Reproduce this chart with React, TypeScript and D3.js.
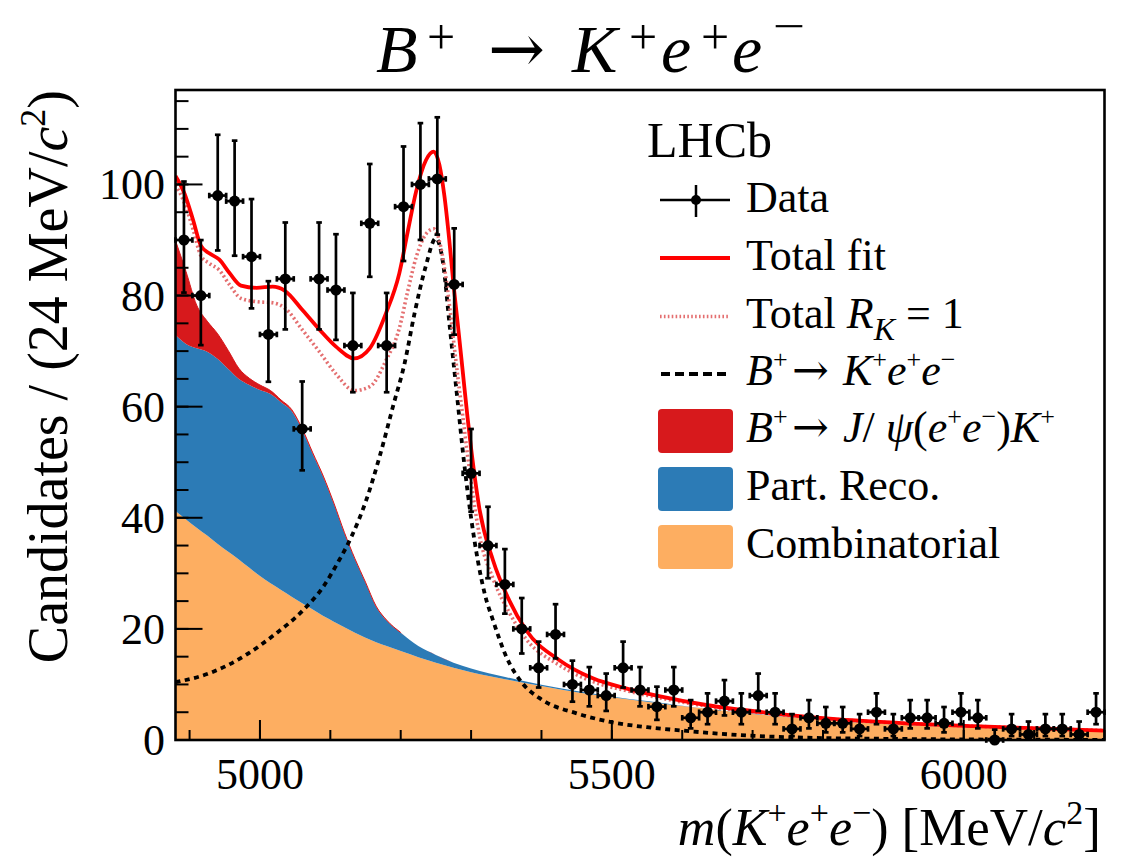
import React from "react";
import * as d3 from "d3";

// Canvas and frame
const W = 1124;
const H = 857;
const FRAME = { left: 175.5, right: 1104.5, top: 90, bottom: 740 };
const M_MIN = 4880;
const M_MAX = 6200;
const Y_MAX = 117;
const BIN_WIDTH = 24;

// Candidates per 24 MeV bin, starting at 4880 MeV
const counts = [
  90, 80, 98, 97, 87, 73, 83, 56, 83, 81, 71, 93, 71, 96, 100, 101, 82, 48, 35, 28,
  20, 13, 19, 10, 9, 8, 13, 9, 6, 9, 4, 5, 7, 5, 8, 5, 2, 4, 3, 3,
  2, 5, 2, 4, 4, 3, 5, 4, 0, 2, 1, 2, 2, 1, 5,
];

// Stacked background components on a common mass grid
const stackMass = [
  4880, 4895, 4910, 4925, 4940, 4955, 4970, 4985, 5000, 5015, 5030, 5045, 5060, 5075,
  5090, 5105, 5120, 5135, 5150, 5165, 5180, 5200, 5225, 5250, 5275, 5300, 5350, 5400,
  5450, 5500, 5550, 5600, 5700, 5800, 5900, 6000, 6100, 6200,
];
const combinatorial = [
  41.2, 39.7, 38.2, 36.8, 35.3, 33.9, 32.5, 31.0, 29.5, 28.2, 27.0, 25.8, 24.6, 23.5,
  22.3, 21.3, 20.3, 19.3, 18.4, 17.6, 16.9, 16.0, 14.9, 13.9, 13.0, 12.2, 10.9, 9.7,
  8.6, 7.7, 6.9, 6.1, 4.7, 3.6, 2.8, 2.3, 1.85, 1.5,
];
const partReco = [
  31.7, 31.6, 32.3, 33.1, 33.3, 32.9, 32.5, 32.9, 33.5, 34.1, 33.8, 33.4, 31.2, 28.0,
  25.0, 21.2, 16.9, 13.2, 9.9, 6.4, 4.6, 3.3, 2.0, 1.4, 0.9, 0.65, 0.4, 0.25,
  0.2, 0.15, 0.1, 0.08, 0.05, 0.03, 0.02, 0.01, 0.01, 0,
];
const jpsiLeak = [
  17.0, 13.0, 7.8, 5.5, 4.5, 3.3, 1.9, 1.2, 0.9, 0.6, 0.4, 0.3, 0.25, 0.2,
  0.2, 0.15, 0.15, 0.12, 0.1, 0.1, 0.08, 0.05, 0.03, 0.02, 0, 0, 0, 0,
  0, 0, 0, 0, 0, 0, 0, 0, 0, 0,
];

// Signal B+ -> K+ e+ e- component
const signalMass = [
  4880, 4930, 4980, 5020, 5060, 5090, 5110, 5130, 5150, 5170, 5190, 5205, 5220, 5235,
  5250, 5260, 5270, 5280, 5290, 5300, 5310, 5320, 5331, 5350, 5373, 5400, 5450, 5500,
  5550, 5600, 5680, 5800, 5900, 6000, 6200,
];
const signalYield = [
  10.4, 12.1, 15.3, 18.9, 23.2, 27.6, 31.8, 36.6, 42.8, 51.0, 60.5, 67.5, 77.0, 85.0,
  90.3, 86.0, 74.0, 62.0, 50.0, 40.0, 32.0, 26.0, 21.6, 15.0, 10.2, 7.3, 4.8, 3.2,
  2.3, 1.7, 0.9, 0.35, 0.2, 0.1, 0.03,
];

// Total fit and total with R_K = 1
const fitMass = [
  4880, 4893, 4905, 4916, 4928, 4942, 4957, 4973, 4995, 5018, 5035, 5061, 5085, 5108,
  5134, 5156, 5179, 5198, 5210, 5222, 5236, 5247, 5255, 5262, 5269, 5275, 5281, 5288,
  5295, 5300, 5312, 5331, 5354, 5378, 5425, 5473, 5520, 5567, 5634, 5728, 5823, 5918,
  6013, 6107, 6200,
];
const totalFit = [
  101.5, 98.3, 93.6, 89.0, 87.6, 86.5, 84.0, 81.8, 81.4, 81.6, 80.9, 77.3, 73.8, 70.8,
  68.7, 70.5, 76.8, 84.0, 91.5, 98.8, 104.4, 105.9, 103.5, 98.0, 90.0, 82.0, 75.0, 66.5,
  58.0, 52.5, 41.5, 32.4, 25.2, 19.8, 14.4, 11.1, 9.3, 7.9, 6.3, 4.8, 3.7, 3.0,
  2.5, 2.1, 1.7,
];
const totalRK1 = [
  99.9, 96.6, 91.9, 87.2, 85.8, 84.6, 81.9, 79.5, 78.9, 78.7, 77.8, 73.7, 69.8, 65.9,
  62.9, 63.6, 68.3, 74.1, 80.8, 86.9, 91.1, 92.0, 89.8, 85.1, 78.6, 72.0, 65.5, 58.5,
  51.2, 46.5, 36.8, 29.1, 23.0, 18.2, 13.5, 10.5, 8.9, 7.6, 6.1, 4.7, 3.65, 2.97,
  2.48, 2.09, 1.7,
];

// Axis ticks
const xMajorTicks = [5000, 5500, 6000];
const xMinorTicks = d3.range(4900, 6201, 100);
const yMajorTicks = [0, 20, 40, 60, 80, 100];
const yMinorTicks = d3.range(0, 116, 5);

const COLORS = {
  comb: "#FDAE61",
  part: "#2C7BB6",
  jpsi: "#D7191C",
  total: "#FF0000",
  rk1: "#E46F70",
};

const SERIF = "'Liberation Serif', 'Times New Roman', Times, serif";
const ARROW_FONT = "'DejaVu Serif', 'Liberation Serif', serif";

// Approximate 68% Poisson interval (Gehrels)
function poissonErr(n: number): [number, number] {
  const up = n + Math.sqrt(n + 0.75) + 1;
  const lo = n > 0 ? n * Math.pow(1 - 1 / (9 * n) - 1 / (3 * Math.sqrt(n)), 3) : 0;
  return [n - lo, up - n];
}

type Part = { t: string; it?: boolean; sup?: boolean; sub?: boolean; size?: number };

// Text runs with superscripts/subscripts as tspans
function MathRuns({ parts, size, supSize, supShift, subSize, subShift }: {
  parts: Part[]; size: number; supSize: number; supShift: number; subSize?: number; subShift?: number;
}) {
  let offset = 0;
  return (
    <>
      {parts.map((p, i) => {
        let target = 0;
        let fs = p.size || size;
        if (p.sup) { target = -supShift; fs = supSize; }
        if (p.sub) { target = subShift || 0; fs = subSize || supSize; }
        const dy = target - offset;
        offset = target;
        return (
          <tspan key={i} dy={dy} fontSize={fs} fontStyle={p.it ? "italic" : "normal"}>
            {p.t}
          </tspan>
        );
      })}
    </>
  );
}

export default function App() {
  const x = d3.scaleLinear().domain([M_MIN, M_MAX]).range([FRAME.left, FRAME.right]);
  const y = d3.scaleLinear().domain([0, Y_MAX]).range([FRAME.bottom, FRAME.top]);

  const rows = stackMass.map((m, i) => ({
    m,
    comb: combinatorial[i],
    part: partReco[i],
    jpsi: jpsiLeak[i],
  }));
  const stacked = d3.stack<any>().keys(["comb", "part", "jpsi"])(rows);
  const area = d3
    .area<any>()
    .x((d) => x(d.data.m))
    .y0((d) => y(d[0]))
    .y1((d) => y(d[1]))
    .curve(d3.curveMonotoneX);
  const jpsiEdge = d3
    .line<any>()
    .x((d) => x(d.data.m))
    .y((d) => y(d[1]))
    .curve(d3.curveMonotoneX)(stacked[2].filter((d: any) => d.data.m <= 5200));

  const curve = d3
    .line<[number, number]>()
    .x((d) => x(d[0]))
    .y((d) => y(d[1]))
    .curve(d3.curveMonotoneX);
  const sigPath = curve(signalMass.map((m, i) => [m, signalYield[i]]));
  const totPath = curve(fitMass.map((m, i) => [m, totalFit[i]]));
  const rk1Path = curve(fitMass.map((m, i) => [m, totalRK1[i]]));

  const fills = [COLORS.comb, COLORS.part, COLORS.jpsi];

  const legendX = 746;
  const legendBase = [212, 270, 328, 385, 442, 500, 558];
  const LS = 44;

  return (
    <svg
      width={W}
      height={H}
      viewBox={`0 0 ${W} ${H}`}
      style={{ position: "absolute", left: 0, top: 0, background: "#fff" }}
      fontFamily={SERIF}
    >
      <defs>
        <clipPath id="plotArea">
          <rect x={FRAME.left} y={FRAME.top} width={FRAME.right - FRAME.left} height={FRAME.bottom - FRAME.top} />
        </clipPath>
      </defs>

      {/* Title */}
      <g fill="#000">
        <text x={376} y={72} fontSize={68} fontStyle="italic">B</text>
        <text x={427} y={54} fontSize={50}>+</text>
        <text x={488} y={72} fontSize={68} fontFamily={ARROW_FONT}>→</text>
        <text x={572} y={72} fontSize={68} fontStyle="italic">K</text>
        <text x={629} y={54} fontSize={50}>+</text>
        <text x={661} y={72} fontSize={68} fontStyle="italic">e</text>
        <text x={701} y={54} fontSize={50}>+</text>
        <text x={732} y={72} fontSize={68} fontStyle="italic">e</text>
        <text x={773} y={41} fontSize={44} transform="translate(773 0) scale(1.3 1) translate(-773 0)">−</text>
      </g>

      <g clipPath="url(#plotArea)">
        {/* Stacked backgrounds */}
        {stacked.map((layer: any, i: number) => (
          <path key={i} d={area(layer) || ""} fill={fills[i]} stroke="none" />
        ))}
        <path d={jpsiEdge || ""} fill="none" stroke={COLORS.jpsi} strokeWidth={1} />

        {/* Signal component */}
        <path d={sigPath || ""} fill="none" stroke="#000" strokeWidth={3.8} strokeDasharray="5 4.5" />
        {/* Total with R_K = 1 */}
        <path d={rk1Path || ""} fill="none" stroke={COLORS.rk1} strokeWidth={3.6} strokeDasharray="2 2.6" />
        {/* Total fit */}
        <path d={totPath || ""} fill="none" stroke={COLORS.total} strokeWidth={3.8} />
      </g>

      {/* Data points */}
      <g stroke="#000" strokeWidth={2.7} fill="#000">
        {counts.map((n, i) => {
          const lo = M_MIN + i * BIN_WIDTH;
          const hi = lo + BIN_WIDTH;
          const cx = x(lo + BIN_WIDTH / 2);
          const cy = y(n);
          const [eLo, eHi] = poissonErr(n);
          const yTop = y(n + eHi);
          const yBot = y(n - eLo);
          const xl = x(lo);
          const xr = Math.min(x(hi), FRAME.right);
          return (
            <g key={i}>
              <line x1={cx} x2={cx} y1={yTop} y2={yBot} />
              <line x1={cx - 2.8} x2={cx + 2.8} y1={yTop} y2={yTop} />
              {eLo > 0 && <line x1={cx - 2.8} x2={cx + 2.8} y1={yBot} y2={yBot} />}
              <line x1={xl} x2={xr} y1={cy} y2={cy} />
              <line x1={xl} x2={xl} y1={cy - 2.8} y2={cy + 2.8} />
              <line x1={xr} x2={xr} y1={cy - 2.8} y2={cy + 2.8} />
              <circle cx={cx} cy={cy} r={5.5} stroke="none" />
            </g>
          );
        })}
      </g>

      {/* Ticks */}
      <g stroke="#000" strokeWidth={2}>
        {xMinorTicks.map((t) => (
          <line key={`xm${t}`} x1={x(t)} x2={x(t)} y1={FRAME.bottom} y2={FRAME.bottom - 10} />
        ))}
        {xMajorTicks.map((t) => (
          <line key={`xM${t}`} x1={x(t)} x2={x(t)} y1={FRAME.bottom} y2={FRAME.bottom - 20} />
        ))}
        {yMinorTicks.map((t) => (
          <line key={`ym${t}`} x1={FRAME.left} x2={FRAME.left + 13} y1={y(t)} y2={y(t)} />
        ))}
        {yMajorTicks.map((t) => (
          <line key={`yM${t}`} x1={FRAME.left} x2={FRAME.left + 27} y1={y(t)} y2={y(t)} />
        ))}
      </g>

      {/* Frame */}
      <rect
        x={FRAME.left}
        y={FRAME.top}
        width={FRAME.right - FRAME.left}
        height={FRAME.bottom - FRAME.top}
        fill="none"
        stroke="#000"
        strokeWidth={2.6}
      />

      {/* Tick labels */}
      <g fontSize={44} fill="#000">
        {xMajorTicks.map((t) => (
          <text key={`xl${t}`} x={x(t)} y={789} textAnchor="middle">{t}</text>
        ))}
        {yMajorTicks.map((t) => (
          <text key={`yl${t}`} x={165} y={y(t) + 15} textAnchor="end">{t}</text>
        ))}
      </g>

      {/* Axis titles */}
      <text x={1101} y={845} textAnchor="end" fontSize={52} fill="#000">
        <MathRuns
          size={52}
          supSize={34}
          supShift={21}
          parts={[
            { t: "m", it: true },
            { t: "(" },
            { t: "K", it: true },
            { t: "+", sup: true },
            { t: "e", it: true },
            { t: "+", sup: true },
            { t: "e", it: true },
            { t: "−", sup: true },
            { t: ") " },
            { t: "[MeV/", size: 53 },
            { t: "c", it: true, size: 53 },
            { t: "2", sup: true },
            { t: "]", size: 53 },
          ]}
        />
      </text>
      <text transform={`translate(67, ${FRAME.top}) rotate(-90)`} textAnchor="end" fontSize={56} fill="#000">
        <MathRuns
          size={56}
          supSize={36}
          supShift={22}
          parts={[
            { t: "Candidates / (24 MeV/" },
            { t: "c", it: true },
            { t: "2", sup: true },
            { t: ")" },
          ]}
        />
      </text>

      {/* Legend */}
      <text x={647} y={157} fontSize={50} fill="#000">LHCb</text>
      <g fill="#000">
        <line x1={660} x2={730} y1={200} y2={200} stroke="#000" strokeWidth={2.5} />
        <line x1={696} x2={696} y1={185} y2={217} stroke="#000" strokeWidth={2.5} />
        <circle cx={696} cy={200} r={5} fill="#000" />
        <text x={legendX} y={legendBase[0]} fontSize={LS}>Data</text>

        <line x1={660} x2={730} y1={258} y2={258} stroke={COLORS.total} strokeWidth={4} />
        <text x={legendX} y={legendBase[1]} fontSize={LS}>Total fit</text>

        <line x1={660} x2={730} y1={316.5} y2={316.5} stroke={COLORS.rk1} strokeWidth={3.4} strokeDasharray="1.6 2.3" />
        <text x={legendX} y={legendBase[2]} fontSize={LS}>
          <MathRuns
            size={LS}
            supSize={30}
            supShift={16}
            subSize={32}
            subShift={12}
            parts={[
              { t: "Total " },
              { t: "R", it: true },
              { t: "K", it: true, sub: true },
              { t: " = 1" },
            ]}
          />
        </text>

        <line x1={661} x2={730} y1={374} y2={374} stroke="#000" strokeWidth={4} strokeDasharray="9 5" />
        <text x={legendX} y={legendBase[3]} fontSize={LS}>
          <MathRuns
            size={LS}
            supSize={26}
            supShift={17}
            parts={[
              { t: "B", it: true },
              { t: "+", sup: true },
            ]}
          />
        </text>
        <text x={792} y={legendBase[3]} fontSize={LS} fontFamily={ARROW_FONT}>→</text>
        <text x={843} y={legendBase[3]} fontSize={LS}>
          <MathRuns
            size={LS}
            supSize={26}
            supShift={17}
            parts={[
              { t: "K", it: true },
              { t: "+", sup: true },
              { t: "e", it: true },
              { t: "+", sup: true },
              { t: "e", it: true },
              { t: "−", sup: true },
            ]}
          />
        </text>

        <rect x={658} y={legendBase[4] - 33} width={75} height={44} rx={4} fill={COLORS.jpsi} />
        <text x={legendX} y={legendBase[4]} fontSize={LS}>
          <MathRuns
            size={LS}
            supSize={26}
            supShift={17}
            parts={[
              { t: "B", it: true },
              { t: "+", sup: true },
            ]}
          />
        </text>
        <text x={792} y={legendBase[4]} fontSize={LS} fontFamily={ARROW_FONT}>→</text>
        <text x={843} y={legendBase[4]} fontSize={LS}>
          <MathRuns
            size={LS}
            supSize={26}
            supShift={17}
            parts={[
              { t: "J", it: true },
              { t: "/ " },
              { t: "ψ", it: true },
              { t: "(" },
              { t: "e", it: true },
              { t: "+", sup: true },
              { t: "e", it: true },
              { t: "−", sup: true },
              { t: ")" },
              { t: "K", it: true },
              { t: "+", sup: true },
            ]}
          />
        </text>

        <rect x={658} y={legendBase[5] - 33} width={75} height={44} rx={4} fill={COLORS.part} />
        <text x={legendX} y={legendBase[5]} fontSize={LS}>Part. Reco.</text>

        <rect x={658} y={legendBase[6] - 33} width={75} height={44} rx={4} fill={COLORS.comb} />
        <text x={legendX} y={legendBase[6]} fontSize={LS}>Combinatorial</text>
      </g>
    </svg>
  );
}
